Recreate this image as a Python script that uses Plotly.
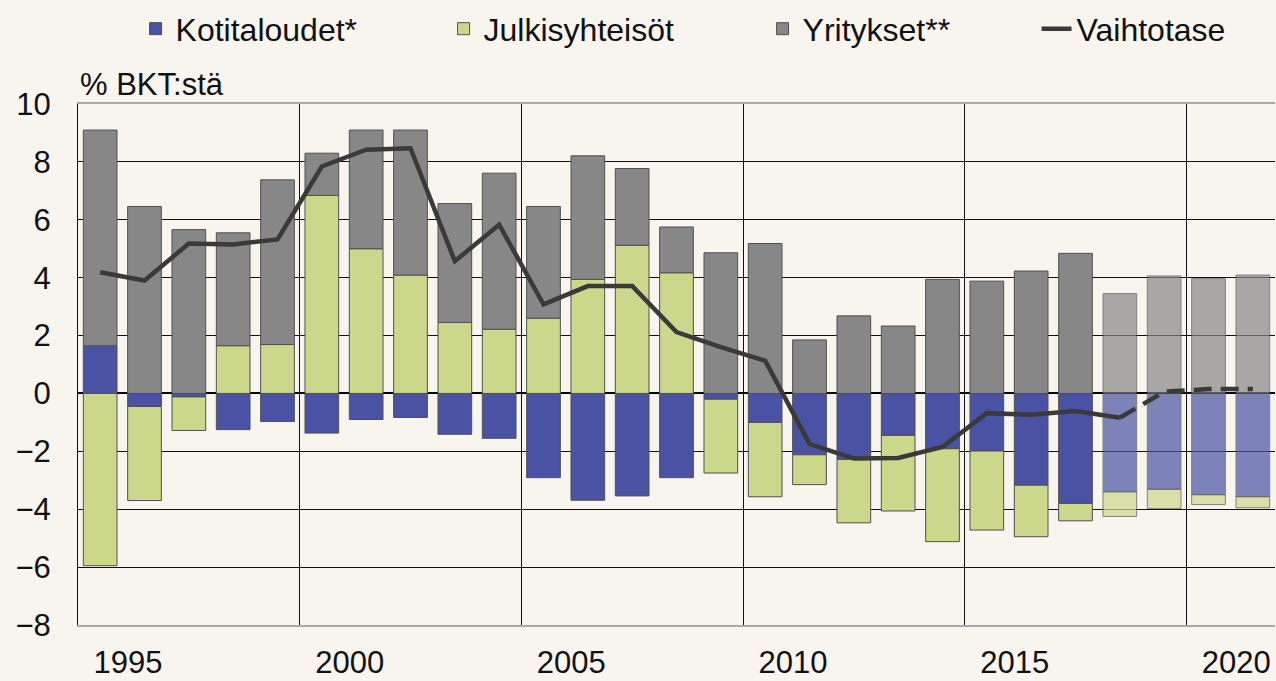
import plotly.graph_objects as go

# ---- data, % of GDP ----
years = list(range(1995, 2022))
forecast_from = 2018          # bars from this year on are forecasts (lighter)
line_actual_until = 2018      # current-account line is solid up to this year

kotitaloudet = [1.65, -0.45, -0.12, -1.25, -0.97, -1.37, -0.90, -0.83, -1.41, -1.55,
                -2.91, -3.69, -3.54, -2.91, -0.20, -1.00, -2.12, -2.28, -1.45, -1.91,
                -1.99, -3.17, -3.80, -3.40, -3.31, -3.50, -3.57]
julkisyhteisot = [-5.95, -3.25, -1.16, 1.65, 1.69, 6.84, 5.00, 4.09, 2.45, 2.22,
                  2.60, 3.94, 5.12, 4.17, -2.55, -2.57, -1.03, -2.19, -2.61, -3.21,
                  -2.73, -1.78, -0.60, -0.85, -0.67, -0.34, -0.38]
yritykset = [7.45, 6.46, 5.66, 3.90, 5.69, 1.46, 4.10, 5.01, 4.11, 5.39,
             3.86, 4.27, 2.65, 1.58, 4.86, 5.18, 1.85, 2.68, 2.33, 3.94,
             3.88, 4.23, 4.84, 3.45, 4.06, 3.97, 4.09]
vaihtotase = [4.19, 3.90, 5.18, 5.15, 5.32, 7.84, 8.42, 8.47, 4.57, 5.83,
              3.08, 3.71, 3.71, 2.12, 1.60, 1.13, -1.74, -2.25, -2.23, -1.85,
              -0.68, -0.74, -0.61, -0.84, 0.06, 0.15, 0.15]

label_years = [1995, 2000, 2005, 2010, 2015, 2020]
series_names = ["Kotitaloudet*", "Julkisyhteisöt", "Yritykset**", "Vaihtotase"]
y_title = "% BKT:stä"

# ---- styling ----
BG = "#F8F4EE"
FONT = "Liberation Sans, Arial, sans-serif"
colors = ["#4A52A3", "#CBD78A", "#878787"]
opacity = [0.7 if y >= forecast_from else 1.0 for y in years]
legend_ids = ["legend", "legend2", "legend3", "legend4"]
legend_x = [0.0481, 0.3054, 0.5719, 0.8008]   # left edges of the legend entries (paper)

fig = go.Figure()
for name, vals, col, lid in zip(series_names[:3], [kotitaloudet, julkisyhteisot, yritykset],
                                colors, legend_ids[:3]):
    fig.add_trace(go.Bar(
        x=years, y=vals, name=name, width=0.76, legend=lid,
        marker=dict(color=col, opacity=opacity, line=dict(color="#505050", width=1)),
    ))

solid_x = [y for y in years if y <= line_actual_until]
solid_y = [v for y, v in zip(years, vaihtotase) if y <= line_actual_until]
dash_x = [y for y in years if y >= line_actual_until]
dash_y = [v for y, v in zip(years, vaihtotase) if y >= line_actual_until]

fig.add_trace(go.Scatter(x=solid_x, y=solid_y, mode="lines", name=series_names[3],
                         legend=legend_ids[3],
                         line=dict(color="#3A3A3A", width=4.5)))
fig.add_trace(go.Scatter(x=dash_x, y=dash_y, mode="lines", showlegend=False,
                         line=dict(color="#3A3A3A", width=4.5, dash="18px,9px")))

legend_common = dict(orientation="h", xanchor="left", y=1.197, yanchor="top",
                     font=dict(size=32), bgcolor="rgba(0,0,0,0)")

fig.update_layout(
    width=1276, height=681,
    margin=dict(l=78, r=1, t=104, b=54),
    paper_bgcolor=BG, plot_bgcolor=BG,
    barmode="relative",
    font=dict(family=FONT, size=31, color="#111111"),
    **{lid: dict(x=lx, **legend_common) for lid, lx in zip(legend_ids, legend_x)},
    xaxis=dict(range=[years[0] - 0.5, years[-1] + 0.5],
               tickvals=[y - 0.5 for y in label_years],
               ticktext=[str(y) for y in label_years],
               ticklabelshift=50,
               showgrid=True, gridcolor="#111111", gridwidth=1,
               zeroline=False,
               showline=True, linecolor="#A8A8A8", linewidth=2, mirror=True,
               ticks="outside", ticklen=9, tickcolor="rgba(0,0,0,0)"),
    yaxis=dict(range=[-8, 10], dtick=2, tick0=0,
               showgrid=True, gridcolor="#111111", gridwidth=1,
               zeroline=True, zerolinecolor="#000000", zerolinewidth=1.5,
               showline=True, linecolor="#111111", linewidth=1,
               ticks="outside", ticklen=20, tickcolor="rgba(0,0,0,0)"),
    annotations=[dict(text=y_title, xref="paper", yref="paper", x=0, y=1.037,
                      xanchor="left", yanchor="middle", showarrow=False,
                      font=dict(size=31))],
)

fig.write_html(
    "out.html",
    config={"displayModeBar": False},
    post_script="document.body.style.margin='0';document.body.style.background='#F8F4EE';",
)
